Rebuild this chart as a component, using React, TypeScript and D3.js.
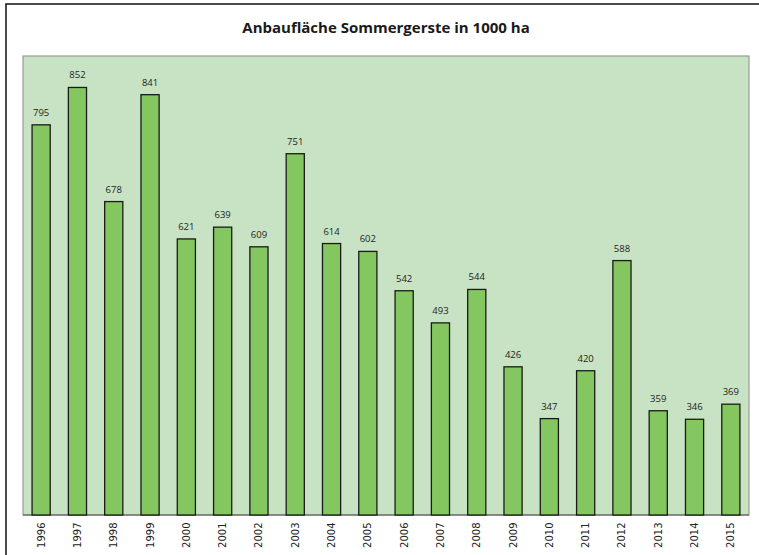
import React from "react";
import * as d3 from "d3";

const years = ["1996","1997","1998","1999","2000","2001","2002","2003","2004","2005","2006","2007","2008","2009","2010","2011","2012","2013","2014","2015"];
const values = [795,852,678,841,621,639,609,751,614,602,542,493,544,426,347,420,588,359,346,369];
const titleText = "Anbaufläche Sommergerste in 1000 ha";

export default function App() {
  const W = 759, H = 555;
  const plot = { left: 23, top: 56, right: 749, bottom: 515 };
  const x = d3.scaleBand<string>().domain(years).range([plot.left, plot.right]).paddingInner(0.5).paddingOuter(0.25);
  const y = d3.scaleLinear().domain([200, 900]).range([plot.bottom, plot.top]);
  const font = "'Open Sans', 'DejaVu Sans', sans-serif";
  return (
    <svg width={W} height={H} style={{ position: "absolute", left: 0, top: 0 }}>
      <rect x={0} y={0} width={W} height={H} fill="#fff" />
      <rect x={6} y={4} width={W + 4} height={H + 4} fill="none" stroke="#111" strokeWidth={1.5} />
      <text x={386} y={33} textAnchor="middle" fontFamily={font} fontWeight="bold" fontSize={15} fill="#1a1a1a">{titleText}</text>
      <rect x={plot.left} y={plot.top} width={plot.right - plot.left} height={plot.bottom - plot.top} fill="#c8e3c4" stroke="#9a9a9a" strokeWidth={1.2} />
      <line x1={plot.left} x2={plot.right} y1={plot.bottom} y2={plot.bottom} stroke="#555" strokeWidth={1.2} />
      {years.map((yr, i) => {
        const bx = x(yr)!;
        const by = y(values[i]);
        return (
          <g key={yr}>
            <rect x={bx} y={by} width={x.bandwidth()} height={plot.bottom - by} fill="#84c65f" stroke="#1a1a1a" strokeWidth={1.3} />
            <text x={bx + x.bandwidth() / 2} y={by - 9} textAnchor="middle" fontFamily={font} fontSize={9.5} fill="#222">{values[i]}</text>
            <text transform={`translate(${bx + x.bandwidth() / 2 + 3.5},${plot.bottom + 7.5}) rotate(-90)`} textAnchor="end" fontFamily="'DejaVu Sans', sans-serif" fontSize={10} fill="#222">{yr}</text>
          </g>
        );
      })}
    </svg>
  );
}
